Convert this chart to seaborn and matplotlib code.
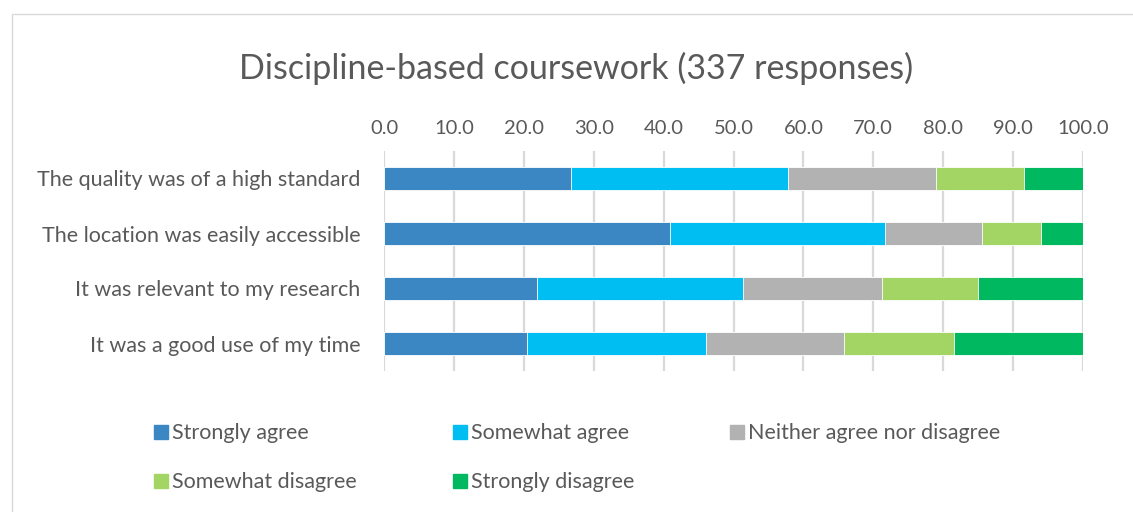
import matplotlib.pyplot as plt
import numpy as np
import pandas as pd
import seaborn as sns
from matplotlib.lines import Line2D
from matplotlib.patches import Rectangle

statements = [
    "The quality was of a high standard",
    "The location was easily accessible",
    "It was relevant to my research",
    "It was a good use of my time",
]
responses = [
    "Strongly agree",
    "Somewhat agree",
    "Neither agree nor disagree",
    "Somewhat disagree",
    "Strongly disagree",
]
strongly_agree = [26.7, 40.9, 21.9, 20.4]
somewhat_agree = [31.1, 30.8, 29.4, 25.7]
neither = [21.2, 13.9, 19.9, 19.7]
somewhat_disagree = [12.6, 8.4, 13.8, 15.7]
strongly_disagree = [8.4, 6.0, 15.0, 18.5]
colors = ["#3A87C3", "#00BEF2", "#B2B2B2", "#A2D564", "#00B85F"]

TEXT = "#595959"


def main():
    sns.set_theme(style="white")
    plt.rcParams["font.family"] = ["Lato", "DejaVu Sans"]

    df = pd.DataFrame(
        np.column_stack([strongly_agree, somewhat_agree, neither,
                         somewhat_disagree, strongly_disagree]),
        columns=responses,
    )
    df.insert(0, "statement", statements)
    cum = df[responses].cumsum(axis=1)

    fig = plt.figure(figsize=(11.33, 5.12), dpi=100)
    ax = fig.add_axes([384 / 1133, 1 - 371 / 512, 699 / 1133, 220 / 512])

    # stacked bars: draw cumulative totals from the widest down
    for resp, col in reversed(list(zip(responses, colors))):
        sns.barplot(
            x=cum[resp], y=df["statement"], orient="h", color=col, saturation=1,
            width=0.42, edgecolor="white", linewidth=0.6, ax=ax, zorder=3,
        )

    ax.set_xlim(0, 100)
    ax.set_ylim(3.5, -0.5)
    ax.set_xticks(np.arange(0, 101, 10))
    ax.set_xticklabels([f"{v:.1f}" for v in range(0, 101, 10)])
    ax.xaxis.tick_top()
    ax.tick_params(axis="x", length=0, pad=10, labelsize=14.5, labelcolor=TEXT)
    ax.tick_params(axis="y", length=0, pad=17, labelsize=15.5, labelcolor=TEXT)
    ax.set_xlabel("")
    ax.set_ylabel("")
    ax.grid(axis="x", color="#D9D9D9", linewidth=1.6, zorder=0)
    for s in ax.spines.values():
        s.set_visible(False)

    fig.text(576 / 1133, 1 - 68 / 512, "Discipline-based coursework (337 responses)",
             ha="center", va="center", fontsize=24.5, color=TEXT)

    # legend fills column by column, so reorder to read row by row
    order = [0, 3, 1, 4, 2]
    handles = [Line2D([], [], marker="s", linestyle="", markersize=10,
                      markerfacecolor=c, markeredgecolor=c) for c in colors]
    fig.legend(
        [handles[i] for i in order], [responses[i] for i in order],
        ncol=3, loc="upper left",
        bbox_to_anchor=(131 / 1133, 1 - 404 / 512), frameon=False,
        fontsize=15.5, labelcolor=TEXT, handletextpad=0.0, columnspacing=4.3,
        handlelength=1.0, labelspacing=1.35,
    )

    fig.patches.append(Rectangle((12 / 1133, -0.05), 1.2, 1 - 14 / 512 + 0.05,
                                 transform=fig.transFigure, fill=False,
                                 edgecolor="#D9D9D9", linewidth=1.0))

    fig.savefig("out.png", dpi=100)


if __name__ == "__main__":
    main()
